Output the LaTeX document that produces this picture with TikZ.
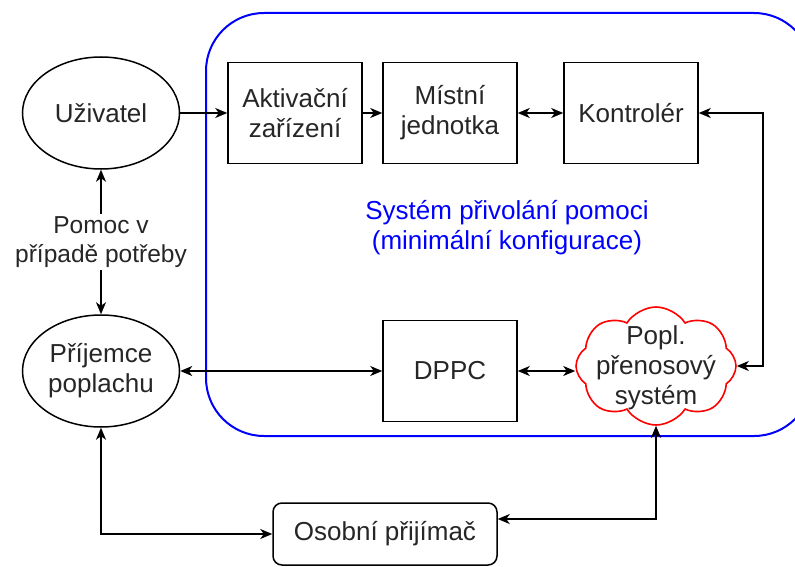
\documentclass[tikz,border=0pt]{standalone}
\usepackage{fontspec}
\setmainfont{Liberation Sans}
\usetikzlibrary{arrows.meta,shapes.geometric,shapes.symbols,calc}
\begin{document}
\begin{tikzpicture}[x=1pt,y=-1pt,
  every node/.style={font=\fontsize{26}{30}\selectfont, align=center, inner sep=0pt, text=black!85},
  box/.style={draw, line width=1.5pt, minimum width=134pt, minimum height=101pt},
  ell/.style={draw, ellipse, line width=1.5pt, minimum width=157pt, minimum height=112pt},
  tip/.tip={Stealth[length=12pt,width=10pt,inset=3.5pt]},
  onehead/.style={line width=1.5pt, -tip},
  twohead/.style={line width=1.5pt, tip-tip},
  cloudbox/.style={draw=red, line width=1.6pt, cloud, cloud puffs=8, cloud puff arc=115, aspect=1.4, minimum width=160pt, minimum height=118pt},
  pers/.style={draw, line width=1.5pt, rounded corners=9pt, minimum width=224pt, minimum height=62pt}
]
\useasboundingbox (0,0) rectangle (795,567);
\fill[white] (0,0) rectangle (795,567);
% system frame
\draw[blue, line width=2pt, rounded corners=58pt] (206,13) rectangle (812,436);
\node[text=blue] (sys) at (507,228) {Systém přivolání pomoci\\(minimální konfigurace)};

\node[ell] (uziv) at (101,113) {Uživatel};
\node[ell] (prij) at (101,371) {Příjemce\\poplachu};
\node[box] (akt) at (295,113) {Aktivační\\zařízení};
\node[box] (mist) at (450,113) {Místní\\jednotka};
\node[box] (kont) at (631,113) {Kontrolér};
\node[box] (dppc) at (450,371) {DPPC};
\node[cloudbox] (cloud) at (656,366) {};
\node (cloudtxt) at (656,368) {Popl.\\přenosový\\systém};
\node[pers] (osob) at (385,534) {Osobní přijímač};

\draw[onehead] (uziv.east) -- (akt.west);
\draw[onehead] (akt.east) -- (mist.west);
\draw[twohead] (mist.east) -- (kont.west);
\draw[twohead] (cloud.east) -- ++(26,0) |- (kont.east);
\draw[twohead] (uziv.south) -- (prij.north)
  node[midway, fill=white, inner sep=3pt, font=\fontsize{24.5}{29}\selectfont] (pomoc) {Pomoc v\\případě potřeby};
\draw[twohead] (prij.east) -- (dppc.west);
\draw[twohead] (dppc.east) -- (cloud.west |- dppc.east);
\draw[twohead] (prij.south) |- (osob.west);
\draw[twohead] ($(osob.east)+(0,-15)$) -| (cloud.south);
\end{tikzpicture}
\end{document}
